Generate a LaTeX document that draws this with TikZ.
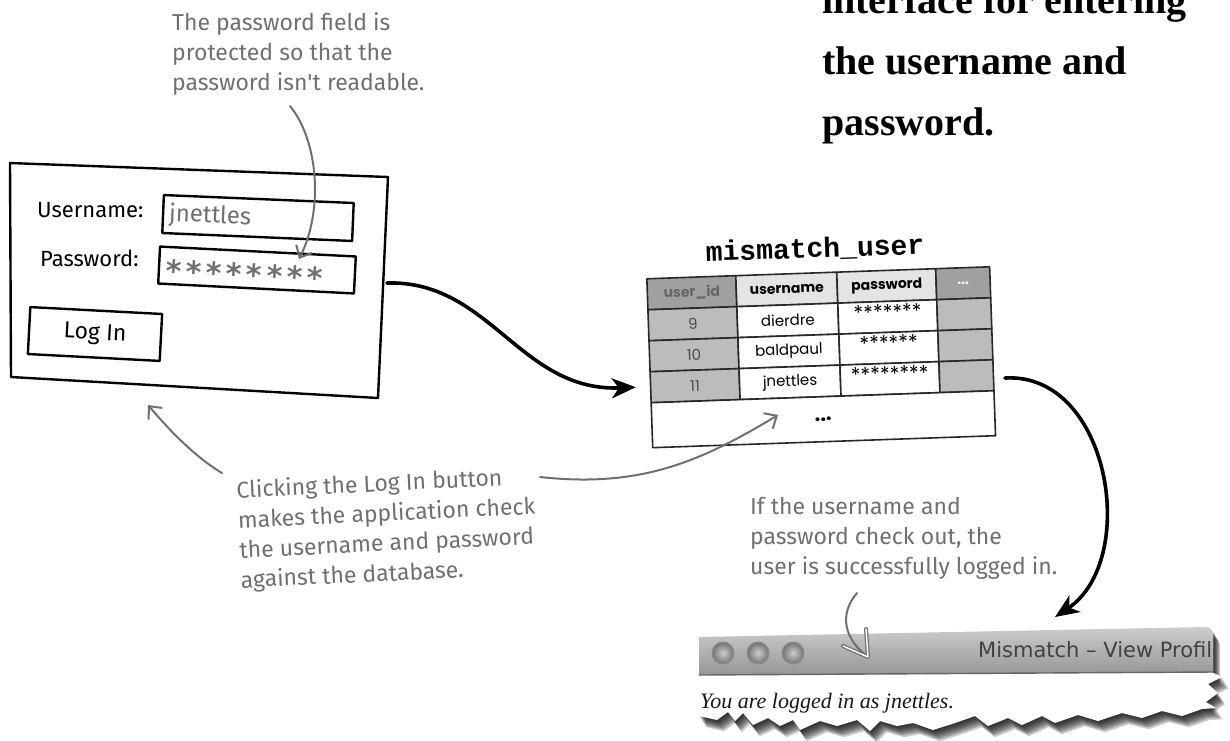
\documentclass[tikz,border=0pt]{standalone}
\usepackage{fontspec}
\setmainfont{Liberation Serif}
\newfontfamily\handfont{Fira Sans}
\newfontfamily\geofont{Poppins}
\newfontfamily\codefont{Liberation Mono}
\newfontfamily\uifont{DejaVu Sans}
\newfontfamily\starfont[LetterSpace=15]{DejaVu Sans}
\usetikzlibrary{arrows.meta}
\definecolor{notegray}{RGB}{112,112,112}
\definecolor{hdrdark}{RGB}{160,160,160}
\definecolor{hdrlight}{RGB}{228,228,228}
\definecolor{celldark}{RGB}{188,188,188}
\definecolor{tabline}{RGB}{40,40,40}
\definecolor{bartop}{RGB}{205,205,205}
\definecolor{barbot}{RGB}{150,150,150}
\begin{document}
\begin{tikzpicture}[x=1pt,y=-1pt,line join=round,line cap=round,
  note/.style={font=\handfont\fontsize{23}{30}\selectfont,text=notegray,align=left,inner sep=0pt},
  formtext/.style={font=\handfont\fontsize{22}{26}\selectfont,text=black,inner sep=0pt},
  sketch/.style={draw=black,line width=2.4pt},
  field/.style={draw=black,line width=2.4pt,inner sep=0pt},
  bigarrow/.style={line width=3.6pt,-{Stealth[length=24pt,width=20pt,inset=7pt]}},
  notearrow/.style={draw=notegray,line width=2pt,-{Straight Barb[length=10pt,width=18pt,line width=2pt]}},
  cell/.style={draw=tabline,line width=1.6pt,anchor=north west,inner sep=0pt,minimum height=31pt,
    font=\geofont\fontsize{15}{15}\selectfont},
  hcell/.style={cell,font=\geofont\bfseries\fontsize{14}{14}\selectfont},
  starcell/.style={cell,fill=white,minimum width=99pt,text depth=10pt,font=\geofont\fontsize{20}{20}\selectfont},
  windowshape/.style={insert path={(699,637) -- (1205,627) to[out=10,in=90] (1213,634) -- (1213,672)
    -- (1203,668) -- (1222,677) -- (1208,684) -- (1218,693) -- (1206,702) -- (1216,708) -- (1202,709)
    -- (1182,716) -- (1162,711) -- (1142,718) -- (1122,713) -- (1098,721) -- (1078,715) -- (1055,723)
    -- (1042,716) -- (1022,725) -- (1008,718) -- (988,726) -- (975,716) -- (955,723) -- (933,730)
    -- (913,723) -- (897,726) -- (880,721) -- (870,731) -- (857,720) -- (837,726) -- (820,721)
    -- (800,730) -- (793,720) -- (780,726) -- (768,718) -- (753,725) -- (743,713) -- (735,721)
    -- (728,712) -- (717,720) -- (699,716) -- cycle}},
  barshape/.style={insert path={(699,637) -- (1205,627) to[out=10,in=90] (1213,634) -- (1213,672) -- (699,675) -- cycle}}
]
\useasboundingbox (0,0) rectangle (1230,740);
\clip (0,0) rectangle (1230,740);

% title text (cut at the top)
\node[anchor=base west,inner sep=0pt,align=left,
  font=\bfseries\fontsize{40}{61}\selectfont] (title) at (822,135)
  {interface for entering\\the username and\\password.};

% top annotation
\node[note,anchor=base west] (pwnote) at (172,90)
  {The password field is\\protected so that the\\password isn't readable.};

% login form
\draw[sketch] (10,163) -- (388,177) -- (378,398) -- (11,377) -- cycle;
\node[formtext,anchor=base west] (ulabel) at (37,217) {Username:};
\node[formtext,anchor=base west] (plabel) at (40,266) {Password:};
\node[field,rotate=-2.4,minimum width=190pt,minimum height=38pt,text width=178pt,
  font=\handfont\fontsize{24}{26}\selectfont,text=notegray] (userbox) at (258,218) {jnettles};
\node[field,rotate=-2.9,minimum width=196pt,minimum height=37pt] (pwbox) at (257,270) {};
\node[inner sep=0pt,anchor=base west,text=notegray,font=\starfont\bfseries\fontsize{30}{30}\selectfont,rotate=-2.9]
  (pwstars) at (165,281) {********};
\node[field,rotate=-3,minimum width=132pt,minimum height=47pt,
  font=\handfont\fontsize{23}{26}\selectfont] (login) at (95,334) {Log In};

% connectors from the form
\coordinate (formE) at (387,283);
\coordinate (noteTop) at (290,106);
\coordinate (pwTip) at (299,259);
\draw[notearrow] (noteTop) .. controls (318,140) and (324,210) .. (pwTip);

% table title
\node[inner sep=0pt,rotate=2,font=\codefont\bfseries\fontsize{28}{28}\selectfont] (tname) at (815,249) {mismatch\_user};

% table
\begin{scope}[shift={(646,278)},rotate=2,transform shape]
  \node[hcell,fill=hdrdark,text=black!60,minimum width=89pt] (h1) at (0,0) {user\_id};
  \node[hcell,fill=hdrlight,minimum width=101pt] (h2) at (89,0) {username};
  \node[hcell,fill=hdrlight,minimum width=99pt] (h3) at (190,0) {password};
  \node[hcell,fill=hdrdark,text=white,minimum width=54pt] (h4) at (289,0) {...};
  \node[cell,fill=celldark,text=black!70,minimum width=89pt] (c11) at (0,31) {9};
  \node[cell,fill=white,minimum width=101pt] (c12) at (89,31) {dierdre};
  \node[starcell] (c13) at (190,31) {*******};
  \node[cell,fill=celldark,minimum width=54pt] (c14) at (289,31) {};
  \node[cell,fill=celldark,text=black!70,minimum width=89pt] (c21) at (0,62) {10};
  \node[cell,fill=white,minimum width=101pt] (c22) at (89,62) {baldpaul};
  \node[starcell] (c23) at (190,62) {******};
  \node[cell,fill=celldark,minimum width=54pt] (c24) at (289,62) {};
  \node[cell,fill=celldark,text=black!70,minimum width=89pt] (c31) at (0,93) {11};
  \node[cell,fill=white,minimum width=101pt] (c32) at (89,93) {jnettles};
  \node[starcell] (c33) at (190,93) {********};
  \node[cell,fill=celldark,minimum width=54pt] (c34) at (289,93) {};
  \node[cell,fill=white,minimum width=343pt,minimum height=45pt,font=\geofont\bfseries\fontsize{20}{20}\selectfont] (c41) at (0,124) {...};
\end{scope}

\draw[bigarrow] (formE) .. controls (490,280) and (520,392) .. ([xshift=-14pt]c31.west);

% click annotation
\node[note,anchor=base west,rotate=2.7] (clicknote) at (241,588)
  {Clicking the Log In button\\makes the application check\\the username and password\\against the database.};
\coordinate (clickR) at (540,477);
\coordinate (clickL) at (222,473);
\coordinate (formTip) at (148,405);
\coordinate (tableTip) at (778,415);
\draw[notearrow] (clickR) .. controls (640,488) and (700,462) .. (tableTip);
\draw[notearrow] (clickL) .. controls (192,455) and (165,425) .. (formTip);

% success annotation
\node[note,anchor=base west] (oknote) at (750,574)
  {If the username and\\password check out, the\\user is successfully logged in.};

% browser window
\foreach \s in {1,...,7}{
  \fill[black,opacity=.2,shift={(\s,1.6*\s)},windowshape];
}
\fill[white,windowshape];
\shade[top color=bartop,bottom color=barbot,barshape];
\draw[black!60,line width=1.4pt] (699,675) -- (1213,672);
\foreach \cx/\nm in {723/ba,758/bb,793/bc}{
  \node[circle,minimum size=22pt,inner sep=0pt,draw=black!45,line width=1pt,
    inner color=black!20,outer color=black!55] (\nm) at (\cx,653) {};
}
\begin{scope}
  \clip[barshape];
  \node[anchor=base west,inner sep=0pt,text=black!75,font=\uifont\fontsize{21}{21}\selectfont] (wtitle) at (978,657)
    {Mismatch – View Profile};
\end{scope}
\node[anchor=base west,inner sep=0pt,text=black!90,font=\itshape\fontsize{22}{22}\selectfont] (wtext) at (700,708)
  {You are logged in as jnettles.};

\coordinate (tableE) at (1005,378);
\coordinate (winTip) at (1055,617);
\draw[bigarrow] (tableE) .. controls (1110,372) and (1140,560) .. (winTip);
\coordinate (okStart) at (857,593);
\coordinate (okTip) at (868,657);
\draw[notegray,line width=2pt] (okStart) .. controls (838,615) and (845,640) .. (okTip);
\draw[notegray,line width=4pt] (843,646) -- (okTip) -- (866,629);
\draw[white,line width=1.5pt] (843,646) -- (okTip) -- (866,629);
\end{tikzpicture}
\end{document}
